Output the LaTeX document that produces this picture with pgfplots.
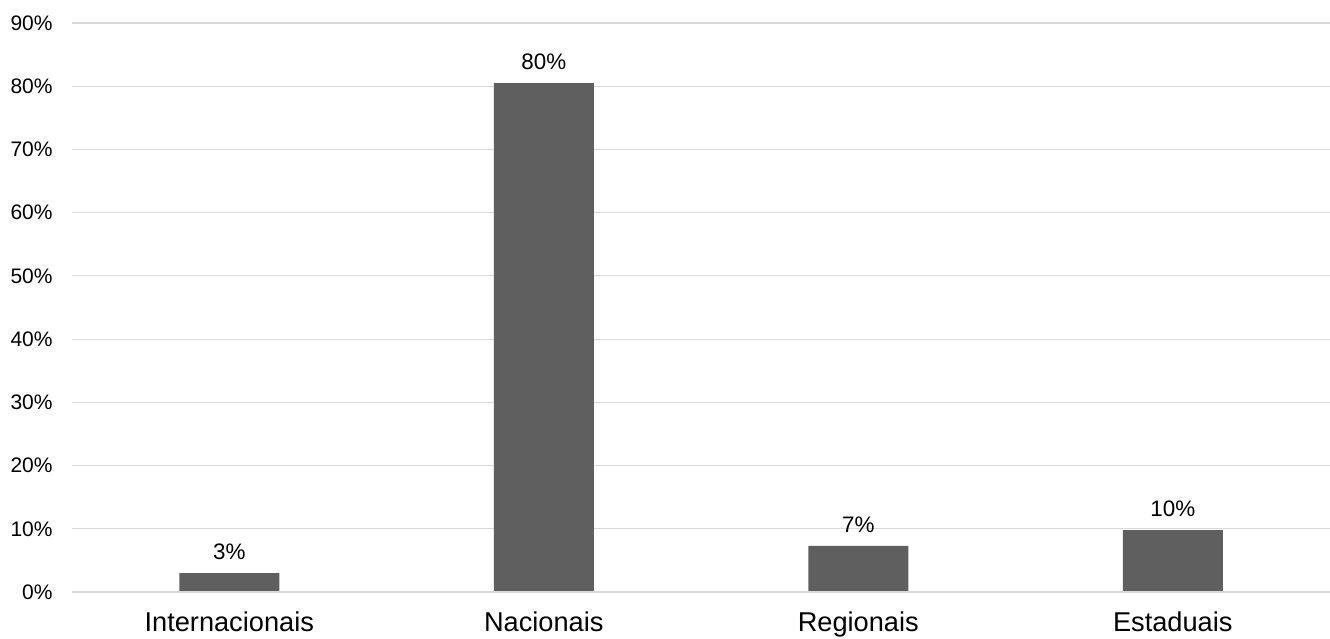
\documentclass[border=0pt]{standalone}
\usepackage{pgfplots}
\pgfplotsset{compat=1.18}
\usepackage{fontspec}
\setmainfont{Liberation Sans}
\definecolor{barc}{HTML}{5F5F5F}
\definecolor{gridc}{HTML}{D9D9D9}
\begin{document}
\begin{tikzpicture}
\begin{axis}[
  scale only axis,
  width=629pt, height=284.5pt,
  xmin=-0.5, xmax=3.5,
  ymin=0, ymax=90,
  ytick={0,10,...,90},
  yticklabels={0\%,10\%,20\%,30\%,40\%,50\%,60\%,70\%,80\%,90\%},
  xtick={0,1,2,3},
  xticklabels={Internacionais,Nacionais,Regionais,Estaduais},
  x tick label style={font=\fontsize{13.6pt}{15pt}\selectfont, anchor=base, inner sep=0pt, yshift=-20pt},
  y tick label style={font=\fontsize{10.5pt}{12pt}\selectfont, anchor=east, inner sep=0pt, xshift=-9.5pt},
  major tick length=0pt,
  ymajorgrids,
  grid style={gridc, line width=0.6pt},
  axis line style={draw=none},
  axis x line*=bottom,
  axis y line*=left,
  clip=false,
]
\addplot[ybar, bar width=50pt, fill=barc, draw=none,
  point meta=explicit symbolic,
  nodes near coords={\pgfplotspointmeta\%},
  every node near coord/.append style={font=\fontsize{11.2pt}{13pt}\selectfont, text=black, anchor=center, inner sep=0pt, yshift=10.5pt}]
  coordinates {(0,3.0)[3] (1,80.5)[80] (2,7.3)[7] (3,9.8)[10]};
\draw[gridc, line width=0.6pt] (rel axis cs:0,0) -- (rel axis cs:1,0);
\coordinate (sw) at (rel axis cs:0,0);
\coordinate (ne) at (rel axis cs:1,1);
\end{axis}
\pgfresetboundingbox
\path ([xshift=-36pt,yshift=-23.5pt]sw) rectangle ([yshift=11.5pt]ne);
\end{tikzpicture}
\end{document}
